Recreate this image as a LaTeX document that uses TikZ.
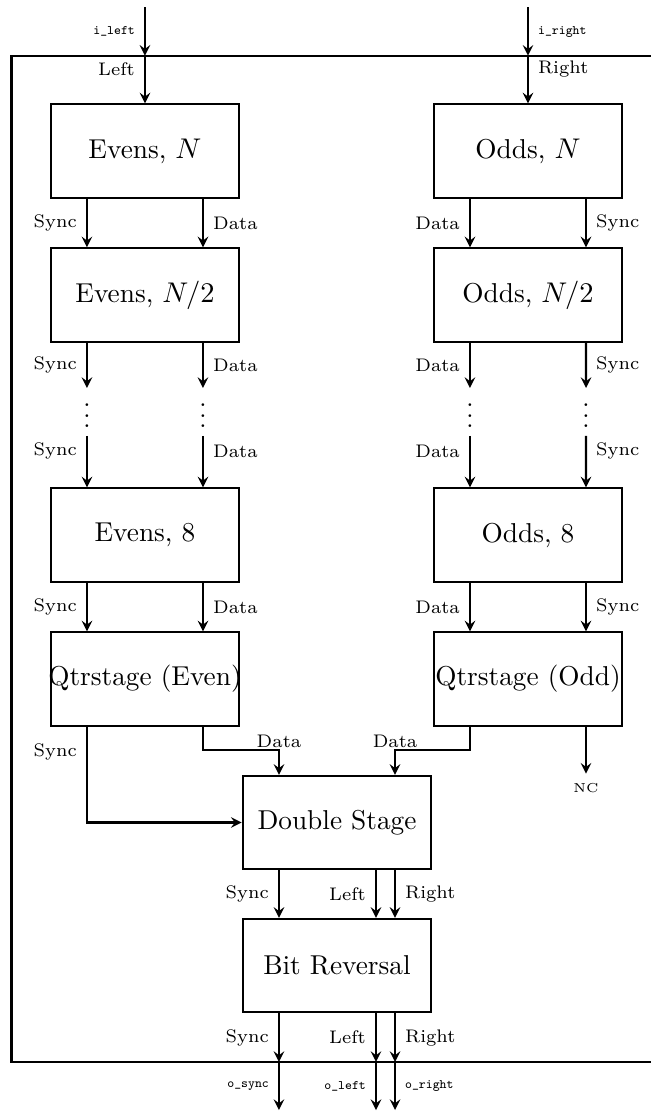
\documentclass[tikz,border=0pt]{standalone}
\usepackage{xcolor}
\usepackage{tikz}
\usetikzlibrary{arrows, positioning, calc}

\tikzset{
    stage/.style={draw, thick, minimum width=2.55cm, minimum height=1.26cm, inner sep=0pt,
        font=\fontsize{10.5pt}{12.5pt}\selectfont},
    wire/.style={thick, -stealth},
    sig/.style={font=\scriptsize, inner sep=3.5pt},
    port/.style={font=\tiny\ttfamily, inner sep=3.5pt},
    note/.style={font=\tiny, inner sep=3.5pt},
    dotsnode/.style={inner sep=0pt, anchor=north}
}
\newcommand{\spill}[1]{\makebox[0pt]{#1}}

\begin{document}
\begin{tikzpicture}
    \useasboundingbox (0,0) rectangle (8.784,-15.027);

    % Frame
    \draw[thick] (0.155,-0.753) rectangle (9.2,-14.351);
    \coordinate (itop) at (0,-0.1);
    \coordinate (ftop) at (0,-0.753);
    \coordinate (fbot) at (0,-14.351);
    \coordinate (obot) at (0,-15.0);

    % Evens chain
    \node[stage] (e1) at (1.959,-2.041) {Evens, $N$};
    \node[stage] (e2) at (1.959,-3.986) {Evens, $N/2$};
    \node[stage] (e3) at (1.959,-7.230) {Evens, 8};
    \node[stage] (e4) at (1.959,-9.176) {\spill{Qtrstage (Even)}};

    % Odds chain
    \node[stage] (o1) at (7.135,-2.041) {Odds, $N$};
    \node[stage] (o2) at (7.135,-3.986) {Odds, $N/2$};
    \node[stage] (o3) at (7.135,-7.230) {Odds, 8};
    \node[stage] (o4) at (7.135,-9.176) {\spill{Qtrstage (Odd)}};

    % Last stages
    \node[stage] (ds) at (4.554,-11.115) {Double Stage};
    \node[stage] (br) at (4.554,-13.047) {Bit Reversal};

    % Inputs
    \draw[wire] (e1.north |- itop) -- node[port,left] {i\_left} (e1.north |- ftop);
    \draw[wire] (e1.north |- ftop) -- node[sig,left,pos=0.28] {Left} (e1.north);
    \draw[wire] (o1.north |- itop) -- node[port,right] {i\_right} (o1.north |- ftop);
    \draw[wire] (o1.north |- ftop) -- node[sig,right,pos=0.28] {Right} (o1.north);

    % Evens links
    \draw[wire] ([xshift=-0.784cm]e1.south) -- node[sig,left] {Sync} ([xshift=-0.784cm]e2.north);
    \draw[wire] ([xshift=0.784cm]e1.south) -- node[sig,right] {Data} ([xshift=0.784cm]e2.north);
    \node[dotsnode] (es) at (1.175,-5.243) {$\vdots$};
    \node[dotsnode] (ed) at (2.743,-5.243) {$\vdots$};
    \draw[wire] ([xshift=-0.784cm]e2.south) -- node[sig,left] {Sync} (es.north);
    \draw[wire] ([xshift=0.784cm]e2.south) -- node[sig,right] {Data} (ed.north);
    \draw[wire] ([yshift=-3pt]es.south) -- node[sig,left,pos=0.3] {Sync} ([xshift=-0.784cm]e3.north);
    \draw[wire] ([yshift=-3pt]ed.south) -- node[sig,right,pos=0.3] {Data} ([xshift=0.784cm]e3.north);
    \draw[wire] ([xshift=-0.784cm]e3.south) -- node[sig,left] {Sync} ([xshift=-0.784cm]e4.north);
    \draw[wire] ([xshift=0.784cm]e3.south) -- node[sig,right] {Data} ([xshift=0.784cm]e4.north);

    % Odds links
    \draw[wire] ([xshift=-0.784cm]o1.south) -- node[sig,left] {Data} ([xshift=-0.784cm]o2.north);
    \draw[wire] ([xshift=0.784cm]o1.south) -- node[sig,right] {Sync} ([xshift=0.784cm]o2.north);
    \node[dotsnode] (od) at (6.351,-5.243) {$\vdots$};
    \node[dotsnode] (os) at (7.919,-5.243) {$\vdots$};
    \draw[wire] ([xshift=-0.784cm]o2.south) -- node[sig,left] {Data} (od.north);
    \draw[wire] ([xshift=0.784cm]o2.south) -- node[sig,right] {Sync} (os.north);
    \draw[wire] ([yshift=-3pt]od.south) -- node[sig,left,pos=0.3] {Data} ([xshift=-0.784cm]o3.north);
    \draw[wire] ([yshift=-3pt]os.south) -- node[sig,right,pos=0.3] {Sync} ([xshift=0.784cm]o3.north);
    \draw[wire] ([xshift=-0.784cm]o3.south) -- node[sig,left] {Data} ([xshift=-0.784cm]o4.north);
    \draw[wire] ([xshift=0.784cm]o3.south) -- node[sig,right] {Sync} ([xshift=0.784cm]o4.north);

    % Into the double stage
    \draw[wire] ([xshift=-0.784cm]e4.south) |- node[sig,left,pos=0.13] {Sync} (ds.west);
    \draw[wire] ([xshift=0.784cm]e4.south) |- ([xshift=-0.784cm,yshift=0.33cm]ds.north)
        node[sig,above,inner sep=0.5pt] {Data} -- ([xshift=-0.784cm]ds.north);
    \draw[wire] ([xshift=-0.784cm]o4.south) |- ([xshift=0.784cm,yshift=0.33cm]ds.north)
        node[sig,above,inner sep=0.5pt] {Data} -- ([xshift=0.784cm]ds.north);
    \coordinate (nc) at ([xshift=0.784cm,yshift=-0.635cm]o4.south);
    \draw[wire] ([xshift=0.784cm]o4.south) -- (nc);
    \node[note,below] (ncl) at (nc) {NC};

    % Double stage to bit reversal
    \draw[wire] ([xshift=-0.784cm]ds.south) -- node[sig,left] {Sync} ([xshift=-0.784cm]br.north);
    \draw[wire] ([xshift=0.527cm]ds.south) -- node[sig,left] {Left} ([xshift=0.527cm]br.north);
    \draw[wire] ([xshift=0.784cm]ds.south) -- node[sig,right] {Right} ([xshift=0.784cm]br.north);

    % Outputs
    \coordinate (bsync) at ([xshift=-0.784cm]br.south);
    \coordinate (bleft) at ([xshift=0.527cm]br.south);
    \coordinate (bright) at ([xshift=0.784cm]br.south);
    \draw[wire] (bsync) -- node[sig,left] {Sync} (bsync |- fbot);
    \draw[wire] (bleft) -- node[sig,left] {Left} (bleft |- fbot);
    \draw[wire] (bright) -- node[sig,right] {Right} (bright |- fbot);
    \draw[wire] (bsync |- fbot) -- node[port,left] {o\_sync} (bsync |- obot);
    \draw[wire] (bleft |- fbot) -- node[port,left] {o\_left} (bleft |- obot);
    \draw[wire] (bright |- fbot) -- node[port,right] {o\_right} (bright |- obot);
\end{tikzpicture}
\end{document}
